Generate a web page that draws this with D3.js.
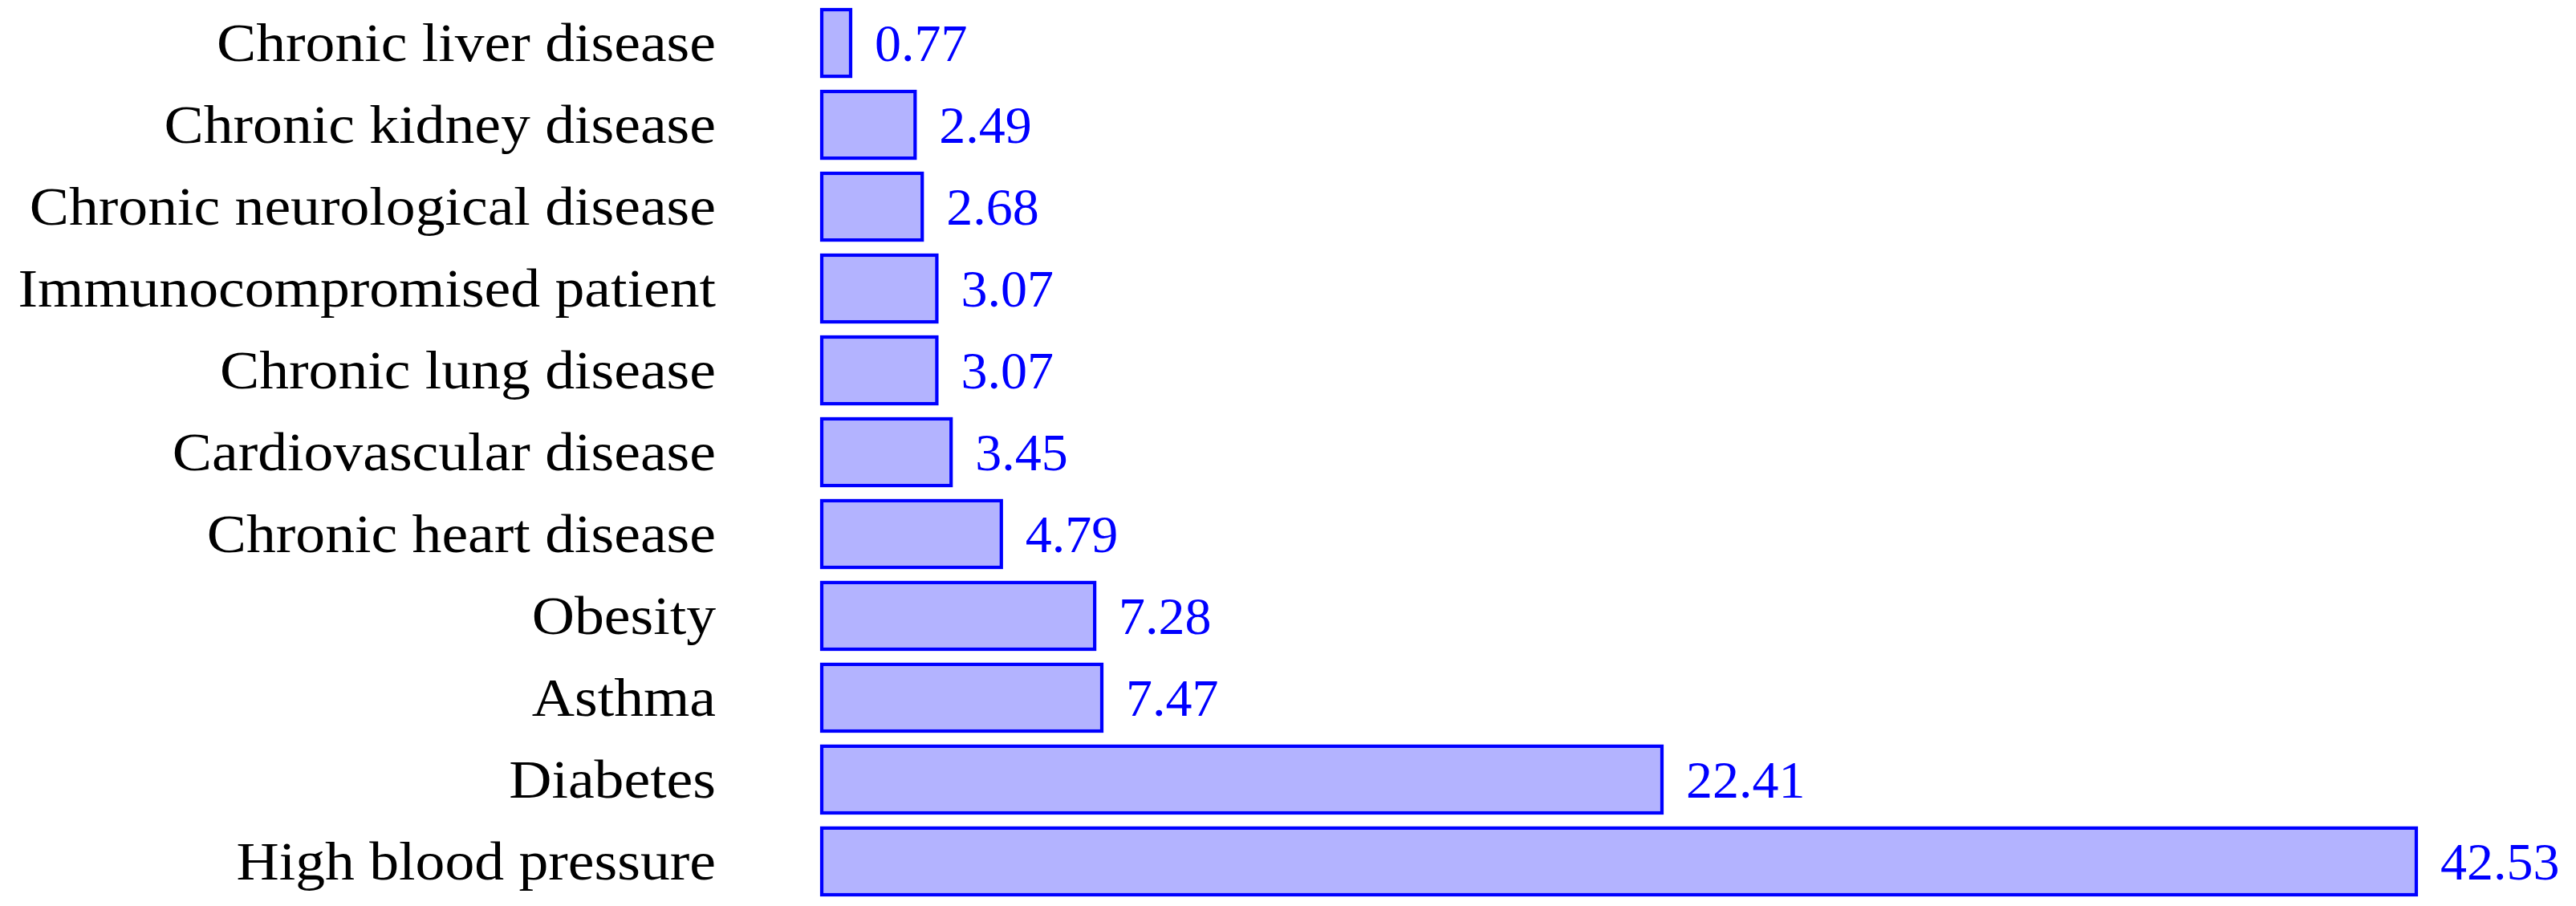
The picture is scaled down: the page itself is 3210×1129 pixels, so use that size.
<!DOCTYPE html>
<html>
<head>
<meta charset="utf-8">
<script src="https://cdn.jsdelivr.net/npm/d3@7"></script>
<style>
  html, body { margin: 0; padding: 0; background: #fff; }
  svg { display: block; }
  text { font-family: "Liberation Serif", "Times New Roman", serif; }
</style>
</head>
<body>
<svg id="chart" width="3210" height="1129"></svg>
<script>
const categories = [
  "Chronic liver disease",
  "Chronic kidney disease",
  "Chronic neurological disease",
  "Immunocompromised patient",
  "Chronic lung disease",
  "Cardiovascular disease",
  "Chronic heart disease",
  "Obesity",
  "Asthma",
  "Diabetes",
  "High blood pressure"
];
const values = [0.77, 2.49, 2.68, 3.07, 3.07, 3.45, 4.79, 7.28, 7.47, 22.41, 42.53];
const valueLabels = ["0.77", "2.49", "2.68", "3.07", "3.07", "3.45", "4.79", "7.28", "7.47", "22.41", "42.53"];

const svg = d3.select("#chart");
const fontSize = 67;
const capHalf = fontSize * 0.662 / 2;

const x = d3.scaleLinear().domain([0, 42.53]).range([1024, 3011]);
const y = d3.scaleBand().domain(categories).range([12, 1115]).paddingInner(0.185).paddingOuter(0);

// bars
svg.append("g").selectAll("rect")
  .data(categories)
  .join("rect")
  .attr("x", x(0))
  .attr("y", d => y(d))
  .attr("width", (d, i) => x(values[i]) - x(0))
  .attr("height", y.bandwidth())
  .attr("fill", "#b3b3ff")
  .attr("stroke", "#0000ff")
  .attr("stroke-width", 4.2);

// value labels
svg.append("g").selectAll("text")
  .data(categories)
  .join("text")
  .attr("x", (d, i) => x(values[i]) + 30)
  .attr("y", d => y(d) + y.bandwidth() / 2 + capHalf)
  .attr("fill", "#0000ff")
  .attr("font-size", 66)
  .text((d, i) => valueLabels[i]);

// category axis
const axis = d3.axisLeft(y).tickSizeInner(0).tickSizeOuter(0).tickPadding(132);
const gAxis = svg.append("g").attr("transform", `translate(${x(0)},0)`).call(axis);
gAxis.select(".domain").remove();
gAxis.selectAll(".tick text")
  .attr("font-family", "Liberation Serif, Times New Roman, serif")
  .attr("font-size", fontSize)
  .attr("fill", "#000")
  .attr("dy", null)
  .attr("x", 0)
  .attr("y", 0)
  .attr("transform", `translate(-132,${capHalf}) scale(1.1,1)`);
</script>
</body>
</html>
